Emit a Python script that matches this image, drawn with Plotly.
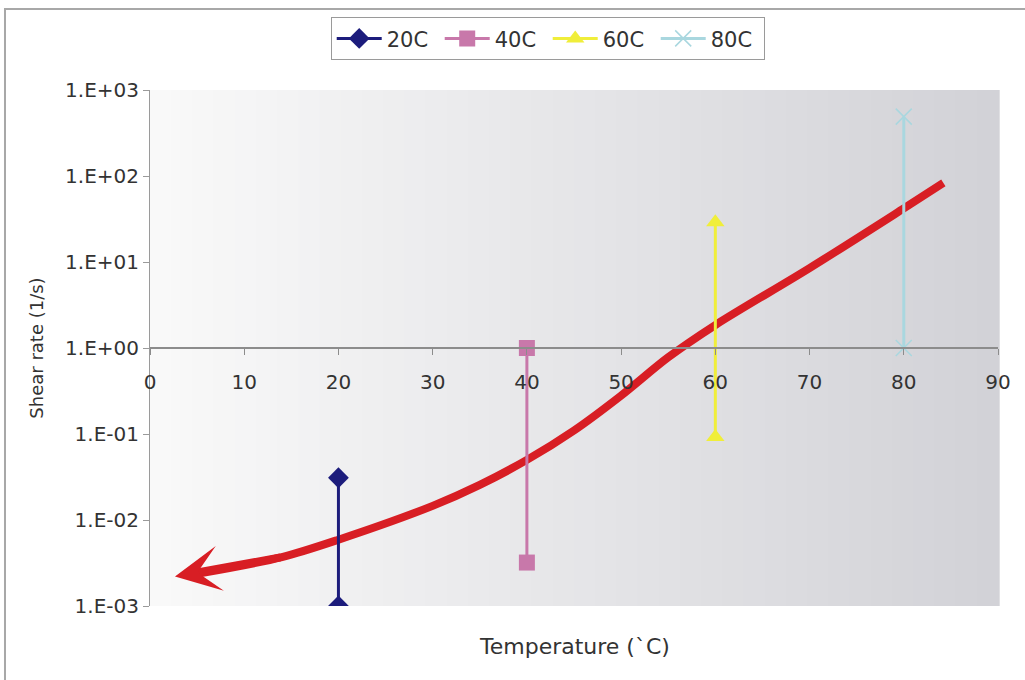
import plotly.graph_objects as go
import math

# ---- data ----
series_names = ["20C", "40C", "60C", "80C"]
series_x = [[20, 20], [40, 40], [60, 60], [80, 80]]
series_y = [[0.001, 0.031], [0.0032, 1.0], [0.092, 29.0], [1.0, 490.0]]
series_colors = ["#1c1c7c", "#c878aa", "#f0ee3a", "#a9d7df"]
series_symbols = ["diamond", "square", "triangle-up", "x-thin"]

curve_x = [2.65, 5.3, 14, 20, 30, 35, 40, 45, 50, 55, 60, 70, 80, 84.2]
curve_y = [0.0022, 0.0024, 0.0037, 0.0059, 0.0146, 0.0256, 0.050, 0.11,
           0.28, 0.78, 1.85, 8.5, 42, 83]

y_tickvals = [1e-3, 1e-2, 1e-1, 1e0, 1e1, 1e2, 1e3]
y_ticktext = ["1.E-03", "1.E-02", "1.E-01", "1.E+00", "1.E+01", "1.E+02", "1.E+03"]
x_tickvals = [0, 10, 20, 30, 40, 50, 60, 70, 80, 90]

FONT = "DejaVu Sans"
TXT = "#333333"

fig = go.Figure()

# red trend curve
fig.add_trace(go.Scatter(
    x=curve_x[1:], y=curve_y[1:], mode="lines",
    line=dict(color="#d81e24", width=8, shape="spline", smoothing=0.9),
    showlegend=False, hoverinfo="skip"))

for name, xs, ys, c, s in zip(series_names, series_x, series_y, series_colors, series_symbols):
    fig.add_trace(go.Scatter(
        x=xs, y=ys, name=name, mode="lines+markers",
        line=dict(color=c, width=3),
        marker=dict(color=c, symbol=s, size=16,
                    line=dict(color=c, width=1.5 if s == "x-thin" else 0))))

# arrowhead on curve start
fig.add_annotation(
    x=curve_x[0], y=math.log10(curve_y[0]), xref="x", yref="y",
    ax=curve_x[2], ay=math.log10(curve_y[2]), axref="x", ayref="y",
    showarrow=True, arrowhead=3, arrowsize=0.95, arrowwidth=8,
    arrowcolor="#d81e24", text="", standoff=0)

# x-axis title
fig.add_annotation(
    x=0.5, y=-0.079, xref="paper", yref="paper", showarrow=False,
    text="Temperature (`C)", font=dict(family=FONT, size=22, color=TXT),
    xanchor="center", yanchor="middle")

# gradient background bands
n = 40
c0 = (249, 249, 249)
c1 = (210, 210, 215)
shapes = []
for i in range(n):
    t = i / (n - 1)
    col = tuple(round(c0[k] + (c1[k] - c0[k]) * t) for k in range(3))
    shapes.append(dict(type="rect", xref="x domain", yref="y domain",
                       x0=i / n, x1=(i + 1) / n + 0.002, y0=0, y1=1,
                       fillcolor="rgb(%d,%d,%d)" % col, line=dict(width=0),
                       layer="below"))
# outer chart border
shapes.append(dict(type="rect", xref="paper", yref="paper",
                   x0=-0.171, x1=1.06, y0=-0.2, y1=1.157,
                   line=dict(color="#a8a8a8", width=2), fillcolor="rgba(0,0,0,0)"))

fig.update_layout(
    width=1025, height=680,
    margin=dict(l=150, r=27, t=90, b=74),
    paper_bgcolor="white", plot_bgcolor="white",
    shapes=shapes,
    font=dict(family=FONT, size=20, color=TXT),
    showlegend=True,
    legend=dict(orientation="h", x=0.469, xanchor="center", y=1.141, yanchor="top",
                bordercolor="#9a9a9a", borderwidth=1, bgcolor="white",
                font=dict(family=FONT, size=21, color=TXT),
                itemwidth=45, entrywidth=48, entrywidthmode="pixels",
                tracegroupgap=0),
    xaxis=dict(range=[0, 90], tickvals=x_tickvals, anchor="free", position=0.5,
               showline=True, linecolor="#8c8c8c", linewidth=2,
               ticks="outside", ticklen=6, tickcolor="#8c8c8c",
               ticklabelstandoff=10,
               showgrid=False, zeroline=False,
               tickfont=dict(family=FONT, size=20, color=TXT)),
    yaxis=dict(type="log", range=[-3, 3], tickvals=y_tickvals, ticktext=y_ticktext,
               showline=True, linecolor="#9a9a9a", linewidth=1,
               ticks="outside", ticklen=6, tickcolor="#9a9a9a",
               showgrid=False, zeroline=False,
               tickfont=dict(family=FONT, size=20, color=TXT),
               title=dict(text="Shear rate (1/s)", standoff=16,
                          font=dict(family=FONT, size=18, color=TXT))),
)

fig.write_html("out.html")
